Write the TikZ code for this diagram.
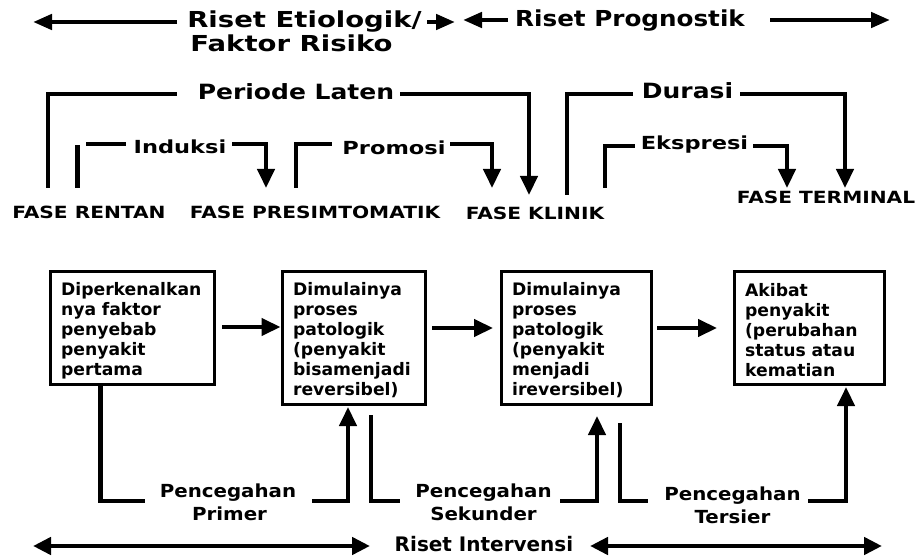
\documentclass[tikz,border=0pt]{standalone}
\usepackage{fontspec}
\setmainfont{DejaVu Sans}
\newfontfamily\fA{DejaVu Sans}[FakeStretch=1.25]
\newfontfamily\fB{DejaVu Sans}[FakeStretch=1.2]
\newfontfamily\fC{DejaVu Sans}[FakeStretch=1.1]
\newfontfamily\fD{DejaVu Sans}[FakeStretch=1.12]
\newfontfamily\fE{DejaVu Sans}[FakeStretch=1.19]
\newcommand\tstr{\rule{0pt}{19pt}}
\usetikzlibrary{arrows.meta}
\begin{document}
\begin{tikzpicture}[x=1pt,y=-1pt,
  ln/.style={line width=4.5pt},
  tip/.style={-{Triangle[length=19pt,width=17pt]}},
  ttip/.style={-{Triangle[length=19pt,width=15pt]}},
  dtip/.style={{Triangle[length=18pt,width=17pt]}-{Triangle[length=18pt,width=17pt]}},
  hd/.style={inner sep=0pt, anchor=base, font=\fA\bfseries\fontsize{22}{24}\selectfont},
  hdp/.style={hd, font=\fD\bfseries\fontsize{22}{24}\selectfont},
  lone/.style={hd, font=\fE\bfseries\fontsize{21}{24}\selectfont},
  ltwo/.style={hd, font=\fA\bfseries\fontsize{18}{20}\selectfont},
  fase/.style={hd, font=\fB\bfseries\fontsize{16.8}{20}\selectfont},
  pc/.style={hd, font=\fC\bfseries\fontsize{18}{20}\selectfont},
  ri/.style={hd, font=\bfseries\fontsize{20}{22}\selectfont},
  box/.style={draw, line width=3.2pt, anchor=north west, inner xsep=11pt, inner ysep=0pt,
    align=left, font=\bfseries\fontsize{17.2}{20}\selectfont}]
\path[fill=white] (0,0) rectangle (921,556);
\useasboundingbox (0,0) rectangle (921,556);

% ---- top research labels
\node[hd] (re1) at (304.5,28) {Riset Etiologik/};
\node[hd] (re2) at (291.5,52) {Faktor Risiko};
\node[hdp] (rp) at (630,27) {Riset Prognostik};
\coordinate (t1a) at (177,22); \coordinate (t1b) at (33,22);
\coordinate (t2a) at (427,22); \coordinate (t2b) at (455,22);
\coordinate (t3a) at (508,20); \coordinate (t3b) at (463,20);
\coordinate (t4a) at (770,20); \coordinate (t4b) at (890,20);
\draw[ln,ttip] (t1a) -- (t1b);
\draw[ln,ttip] (t2a) -- (t2b);
\draw[ln,ttip] (t3a) -- (t3b);
\draw[ln,ttip] (t4a) -- (t4b);

% ---- period labels
\node[lone] (pl) at (296,100) {Periode Laten};
\node[lone] (du) at (687.5,99) {Durasi};
\node[ltwo] (in) at (180,154) {Induksi};
\node[ltwo] (pr) at (394,155) {Promosi};
\node[ltwo] (ek) at (694.5,150) {Ekspresi};

% ---- phases
\node[fase] (f1) at (89,219) {FASE RENTAN};
\node[fase] (f2) at (315,219) {FASE PRESIMTOMATIK};
\node[fase] (f3) at (535,220) {FASE KLINIK};
\node[fase] (f4) at (826,204) {FASE TERMINAL};

% ---- brackets
\coordinate (plL0) at (48,188); \coordinate (plL1) at (177,94);
\coordinate (plR0) at (400,94); \coordinate (plR1) at (529,195);
\draw[ln] (plL0) |- (plL1);
\draw[ln,tip] (plR0) -| (plR1);

\coordinate (inV0) at (77.5,188); \coordinate (inV1) at (77.5,145);
\coordinate (inL0) at (86,144); \coordinate (inL1) at (126,144);
\coordinate (inR0) at (232,144); \coordinate (inR1) at (266,188);
\draw[ln] (inV0) -- (inV1);
\draw[ln] (inL0) -- (inL1);
\draw[ln,tip] (inR0) -| (inR1);

\coordinate (prL0) at (296,188); \coordinate (prL1) at (332,144);
\coordinate (prR0) at (450,144); \coordinate (prR1) at (492,188);
\draw[ln] (prL0) |- (prL1);
\draw[ln,tip] (prR0) -| (prR1);

\coordinate (duL0) at (567,195); \coordinate (duL1) at (633,94);
\coordinate (duR0) at (740,94); \coordinate (duR1) at (845,188);
\draw[ln] (duL0) |- (duL1);
\draw[ln,tip] (duR0) -| (duR1);

\coordinate (ekL0) at (605,188); \coordinate (ekL1) at (635,146);
\coordinate (ekR0) at (753,146); \coordinate (ekR1) at (787,188);
\draw[ln] (ekL0) |- (ekL1);
\draw[ln,tip] (ekR0) -| (ekR1);

% ---- boxes
\node[box, text width=142pt, minimum height=113pt] (b1) at (48.5,269.5)
  {\tstr Diperkenalkan\\nya faktor\\penyebab\\penyakit\\pertama};
\node[box, text width=121pt, minimum height=133pt] (b2) at (280.5,269.5)
  {\tstr Dimulainya\\proses\\patologik\\(penyakit\\bisamenjadi\\reversibel)};
\node[box, text width=128pt, minimum height=133pt] (b3) at (499.5,269.5)
  {\tstr Dimulainya\\proses\\patologik\\(penyakit\\menjadi\\ireversibel)};
\node[box, text width=128pt, minimum height=113pt] (b4) at (732.5,269.5)
  {\tstr Akibat\\penyakit\\(perubahan\\status atau\\kematian};

\coordinate (h1) at (222,327); \coordinate (h2) at (432,328); \coordinate (h2e) at (493,328);
\coordinate (h3) at (657,328); \coordinate (h3e) at (717,328);
\draw[ln,tip] (h1) -- (h1 -| b2.west);
\draw[ln,tip] (h2) -- (h2e);
\draw[ln,tip] (h3) -- (h3e);

% ---- prevention
\node[pc] (p1a) at (228,497) {Pencegahan};
\node[pc] (p1b) at (229.5,520) {Primer};
\node[pc] (p2a) at (483.5,497) {Pencegahan};
\node[pc] (p2b) at (483.5,520) {Sekunder};
\node[pc] (p3a) at (732.5,500) {Pencegahan};
\node[pc] (p3b) at (732.5,523) {Tersier};

\coordinate (q1) at (100.5,501); \coordinate (q1e) at (145,501);
\draw[ln] (b1.south -| q1) -- (q1) -- (q1e);
\coordinate (q2s) at (312,501); \coordinate (q2) at (348,501); \coordinate (q2e) at (348,407);
\draw[ln,tip] (q2s) -- (q2) -- (q2e);
\coordinate (q3s) at (371,415); \coordinate (q3) at (371,501); \coordinate (q3e) at (400,501);
\draw[ln] (q3s) -- (q3) -- (q3e);
\coordinate (q4s) at (560,501); \coordinate (q4) at (597,501); \coordinate (q4e) at (597,416);
\draw[ln,tip] (q4s) -- (q4) -- (q4e);
\coordinate (q5s) at (620,423); \coordinate (q5) at (620,501); \coordinate (q5e) at (648,501);
\draw[ln] (q5s) -- (q5) -- (q5e);
\coordinate (q6s) at (808,501); \coordinate (q6) at (846,501); \coordinate (q6e) at (846,387);
\draw[ln,tip] (q6s) -- (q6) -- (q6e);

% ---- intervention research
\node[ri] (ri) at (484,551) {Riset Intervensi};
\coordinate (r1a) at (33,546); \coordinate (r1b) at (370,546);
\coordinate (r2a) at (590,546); \coordinate (r2b) at (882,546);
\draw[ln,dtip] (r1a) -- (r1b);
\draw[ln,dtip] (r2a) -- (r2b);
\end{tikzpicture}
\end{document}
